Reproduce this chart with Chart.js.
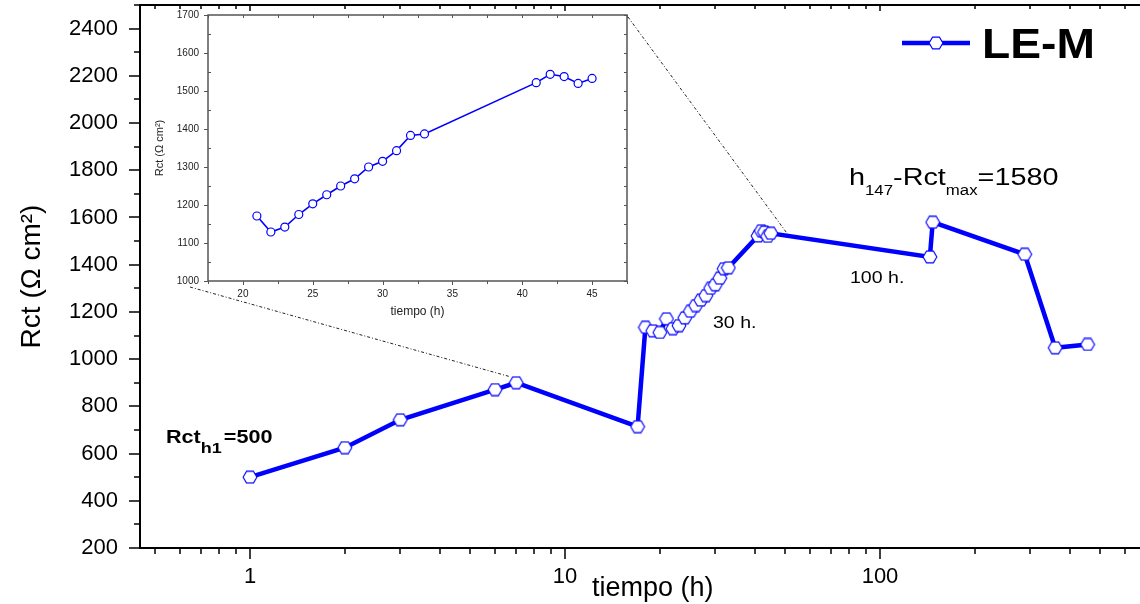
<!DOCTYPE html>
<html><head><meta charset="utf-8">
<script src="https://cdn.jsdelivr.net/npm/chart.js@4.4.1/dist/chart.umd.min.js"></script>
<style>
html,body{margin:0;padding:0;background:#fff;}
#wrap{position:relative;width:1140px;height:604px;overflow:hidden;background:#fff;}
#main{position:absolute;left:0;top:0;}
#inset{position:absolute;left:150px;top:0;}
</style></head><body>
<div id="wrap"><canvas id="main" width="1140" height="604"></canvas><canvas id="inset" width="490" height="325"></canvas></div>
<script>
// ---------------- data ----------------
const earlyTimes = [1, 2, 3, 6, 7, 17, 18, 19, 20];
const earlyRct   = [500, 625, 743, 871, 900, 714, 1135, 1120, 1113];
const insetTimes = [21, 22, 23, 24, 25, 26, 27, 28, 29, 30, 31, 32, 33, 41, 42, 43, 44, 45];
const insetRct   = [1171, 1129, 1142, 1175, 1203, 1227, 1250, 1269, 1300, 1315, 1343, 1383, 1387, 1522, 1544, 1538, 1520, 1533];
const lateTimes  = [144, 147, 288, 360, 456];
const lateRct    = [1433, 1580, 1444, 1048, 1062];
const seriesName = 'LE-M';
const xTickLabels = [1, 10, 100];
const yTickValues = [200, 400, 600, 800, 1000, 1200, 1400, 1600, 1800, 2000, 2200, 2400];
const insetXTicks = [20, 25, 30, 35, 40, 45];
const insetYTicks = [1000, 1100, 1200, 1300, 1400, 1500, 1600, 1700];

const mainTimes = earlyTimes.concat(insetTimes, lateTimes);
const mainRct = earlyRct.concat(insetRct, lateRct);

// ---------------- helpers ----------------
const BLUE = '#0000ff';
const FONT = "'Liberation Sans', Arial, Helvetica, sans-serif";
function hexImg(w, h, lw) {
  const c = document.createElement('canvas'); c.width = w; c.height = h;
  const g = c.getContext('2d');
  const cx = w / 2, cy = h / 2, rx = w / 2 - lw, ry = h / 2 - lw;
  g.beginPath();
  g.moveTo(cx - rx, cy); g.lineTo(cx - rx / 2, cy - ry); g.lineTo(cx + rx / 2, cy - ry);
  g.lineTo(cx + rx, cy); g.lineTo(cx + rx / 2, cy + ry); g.lineTo(cx - rx / 2, cy + ry);
  g.closePath(); g.fillStyle = '#fff'; g.fill();
  g.strokeStyle = BLUE; g.lineWidth = lw; g.stroke();
  return c;
}
const HEX = hexImg(16, 14, 1.1);
function stext(ctx, str, x, y, font, sx) {
  ctx.save(); ctx.font = font; ctx.textBaseline = 'alphabetic'; ctx.textAlign = 'left';
  ctx.fillStyle = '#000';
  ctx.translate(x, y); ctx.scale(sx, 1); ctx.fillText(str, 0, 0);
  const w = ctx.measureText(str).width * sx; ctx.restore(); return w;
}
function logTicks(min, max) {
  const out = [];
  for (let k = -1; k <= 3; k++) for (let m = 1; m <= 9; m++) {
    const v = Number((m * Math.pow(10, k)).toPrecision(6));
    if (v >= min && v <= max) out.push(v);
  }
  return out;
}
const X_MIN = 0.4475, X_MAX = 669;
const xAllTicks = logTicks(X_MIN, X_MAX);

// ---------------- inset ----------------
const insetFrame = {
  id: 'insetFrame',
  beforeDatasetsDraw(chart) {
    const {ctx, chartArea: a, scales: {x, y}} = chart;
    ctx.save();
    ctx.strokeStyle = '#555'; ctx.lineWidth = 1.5;
    ctx.strokeRect(a.left, a.top, a.right - a.left, a.bottom - a.top);
    ctx.lineWidth = 1;
    for (let v = 1000; v <= 1700; v += 50) {
      const py = Math.round(y.getPixelForValue(v)) + 0.5;
      const major = v % 100 === 0;
      ctx.beginPath();
      if (major) { ctx.moveTo(a.left - 4, py); ctx.lineTo(a.left, py); }
      else { ctx.moveTo(a.left, py); ctx.lineTo(a.left + 3, py); }
      ctx.moveTo(a.right, py); ctx.lineTo(a.right - 3, py);
      ctx.stroke();
    }
    for (let v = 17.5; v <= 47.5; v += 2.5) {
      const px = Math.round(x.getPixelForValue(v)) + 0.5;
      const major = v % 5 === 0;
      ctx.beginPath();
      if (major) { ctx.moveTo(px, a.bottom); ctx.lineTo(px, a.bottom + 4); }
      else { ctx.moveTo(px, a.bottom); ctx.lineTo(px, a.bottom + 3); }
      ctx.moveTo(px, a.top); ctx.lineTo(px, a.top + 3);
      ctx.stroke();
    }
    ctx.restore();
  }
};
const insetChart = new Chart(document.getElementById('inset'), {
  type: 'line',
  data: { datasets: [{
    label: seriesName,
    data: insetTimes.map((t, i) => ({x: t, y: insetRct[i]})),
    borderColor: BLUE, borderWidth: 1.6, tension: 0, fill: false,
    pointStyle: 'circle', pointRadius: 4, pointBackgroundColor: '#fff',
    pointBorderColor: BLUE, pointBorderWidth: 1.2
  }]},
  options: {
    responsive: false, animation: false, devicePixelRatio: 1,
    layout: { padding: {top: 15, right: 13, left: 0, bottom: 0}, autoPadding: false },
    plugins: { legend: {display: false}, tooltip: {enabled: false} },
    scales: {
      x: {
        type: 'linear', min: 17.5, max: 47.5,
        grid: {display: false, drawTicks: false}, border: {display: false},
        afterBuildTicks: s => { s.ticks = insetXTicks.map(v => ({value: v})); },
        afterFit: s => { s.height = 44; s.paddingLeft = 0; s.paddingRight = 0; },
        ticks: { padding: 7, color: '#222', autoSkip: false, maxRotation: 0, font: {family: FONT, size: 10},
                 callback: v => String(v) },
        title: { display: true, text: 'tiempo (h)', color: '#222', font: {family: FONT, size: 12}, padding: {top: 0, bottom: 6} }
      },
      y: {
        min: 1000, max: 1700,
        grid: {display: false, drawTicks: false}, border: {display: false},
        afterBuildTicks: s => { s.ticks = insetYTicks.map(v => ({value: v})); },
        afterFit: s => { s.width = 58; s.paddingTop = 0; s.paddingBottom = 0; },
        ticks: { padding: 9, color: '#222', autoSkip: false, font: {family: FONT, size: 10},
                 callback: v => String(v) },
        title: { display: true, text: 'Rct (Ω cm²)', color: '#222', font: {family: FONT, size: 11}, padding: {top: 3, bottom: 0} }
      }
    }
  },
  plugins: [insetFrame]
});

// ---------------- main ----------------
const mainDecor = {
  id: 'mainDecor',
  beforeDatasetsDraw(chart) {
    const {ctx, chartArea: a, scales: {x, y}} = chart;
    ctx.save();
    ctx.strokeStyle = '#000'; ctx.lineWidth = 2;
    ctx.beginPath();
    ctx.moveTo(a.left, a.top); ctx.lineTo(a.left, a.bottom + 1);
    ctx.moveTo(a.left - 1, a.bottom); ctx.lineTo(a.right, a.bottom);
    ctx.moveTo(a.left - 1, a.top); ctx.lineTo(a.right, a.top);
    ctx.stroke();
    ctx.lineWidth = 1.5;
    for (let v = 200; v <= 2500; v += 100) {
      const py = Math.round(y.getPixelForValue(v));
      const major = v % 200 === 0;
      ctx.beginPath(); ctx.moveTo(a.left - (major ? 11 : 6), py); ctx.lineTo(a.left, py); ctx.stroke();
    }
    for (const v of xAllTicks) {
      const px = Math.round(x.getPixelForValue(v));
      const major = xTickLabels.includes(v);
      ctx.beginPath();
      ctx.moveTo(px, a.bottom); ctx.lineTo(px, a.bottom + (major ? 11 : 6));
      ctx.moveTo(px, a.top); ctx.lineTo(px, a.top + (major ? 6 : 4));
      ctx.stroke();
    }
    // dotted zoom guides
    const ia = insetChart.chartArea;
    const off = {x: 150, y: 0};
    ctx.strokeStyle = '#222'; ctx.lineWidth = 1; ctx.setLineDash([3, 2, 1, 2]);
    ctx.beginPath();
    ctx.moveTo(off.x + ia.left - 18, off.y + ia.bottom + 6);
    ctx.lineTo(x.getPixelForValue(7) - 6, y.getPixelForValue(900) - 6);
    ctx.moveTo(off.x + ia.right + 1, off.y + ia.top + 2);
    ctx.lineTo(x.getPixelForValue(45) + 17, y.getPixelForValue(1533) + 1);
    ctx.stroke();
    ctx.restore();
  },
  afterDraw(chart) {
    const {ctx} = chart;
    ctx.save();
    // x axis title (placed as in the reference, right of the "10" label)
    stext(ctx, 'tiempo (h)', 592, 596, '27px ' + FONT, 1.0);
    // legend
    ctx.strokeStyle = BLUE; ctx.lineWidth = 4.5;
    ctx.beginPath(); ctx.moveTo(902, 43); ctx.lineTo(970, 43); ctx.stroke();
    ctx.drawImage(HEX, 936 - 8, 43 - 7);
    stext(ctx, seriesName, 982, 58, 'bold 42px ' + FONT, 1.1);
    // annotations
    let cx = 166;
    cx += stext(ctx, 'Rct', cx, 443, 'bold 18px ' + FONT, 1.2);
    cx += stext(ctx, 'h1', cx, 453, 'bold 15px ' + FONT, 1.2);
    stext(ctx, '=500', cx + 2, 443, 'bold 18px ' + FONT, 1.2);
    cx = 849;
    cx += stext(ctx, 'h', cx, 185, '24px ' + FONT, 1.2);
    cx += stext(ctx, '147', cx, 195, '14px ' + FONT, 1.2);
    cx += stext(ctx, '-Rct', cx, 185, '24px ' + FONT, 1.2);
    cx += stext(ctx, 'max', cx, 195, '14px ' + FONT, 1.2);
    stext(ctx, '=1580', cx, 185, '24px ' + FONT, 1.2);
    stext(ctx, '30 h.', 713, 328, '17px ' + FONT, 1.15);
    stext(ctx, '100 h.', 850, 283, '17px ' + FONT, 1.15);
    ctx.restore();
  }
};

const mainChart = new Chart(document.getElementById('main'), {
  type: 'line',
  data: { datasets: [{
    label: seriesName,
    data: mainTimes.map((t, i) => ({x: t, y: mainRct[i]})),
    borderColor: BLUE, borderWidth: 4.5, tension: 0, fill: false,
    pointStyle: HEX, pointRadius: 7, clip: false
  }]},
  options: {
    responsive: false, animation: false, devicePixelRatio: 1,
    layout: { padding: {top: 5, right: 0, left: 0, bottom: 0}, autoPadding: false },
    plugins: { legend: {display: false}, tooltip: {enabled: false} },
    scales: {
      x: {
        type: 'logarithmic', min: X_MIN, max: X_MAX,
        grid: {display: false, drawTicks: false}, border: {display: false},
        afterBuildTicks: s => { s.ticks = xAllTicks.map(v => ({value: v})); },
        afterFit: s => { s.height = 56; s.paddingLeft = 0; s.paddingRight = 0; },
        ticks: {
          autoSkip: false, maxRotation: 0, minRotation: 0, padding: 16, color: '#000',
          font: {family: FONT, size: 22},
          callback: (v) => xTickLabels.includes(Number(v)) ? String(v) : ''
        },
        title: { display: false }
      },
      y: {
        min: 200, max: 2500,
        grid: {display: false, drawTicks: false}, border: {display: false},
        afterBuildTicks: s => { s.ticks = yTickValues.map(v => ({value: v})); },
        afterFit: s => { s.width = 140; s.paddingTop = 0; s.paddingBottom = 0; },
        ticks: { autoSkip: false, padding: 22, color: '#000', font: {family: FONT, size: 22},
                 callback: v => String(v) },
        title: { display: true, text: 'Rct (Ω cm²)', color: '#000', font: {family: FONT, size: 28}, padding: {top: 15, bottom: 0} }
      }
    }
  },
  plugins: [mainDecor]
});
</script>
</body></html>
